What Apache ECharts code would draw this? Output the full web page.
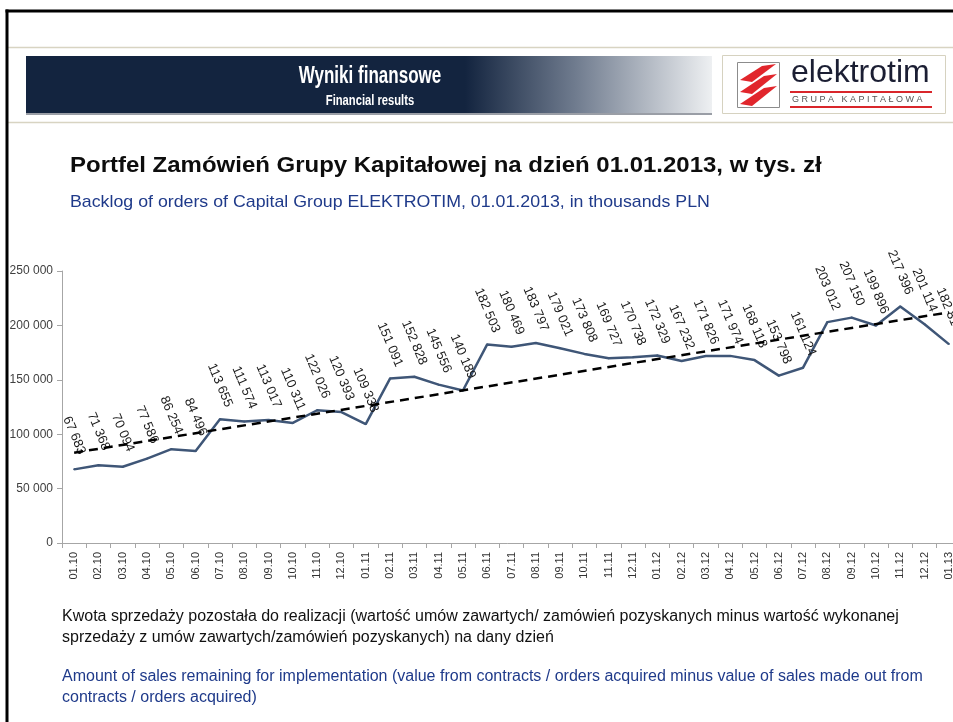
<!DOCTYPE html>
<html>
<head>
<meta charset="utf-8">
<script src="https://cdn.jsdelivr.net/npm/echarts@6/dist/echarts.min.js"></script>
<style>
html,body{margin:0;padding:0;background:#fff;}
#c{width:953px;height:722px;}
</style>
</head>
<body>
<div id="c"></div>
<script>
// ---- data ----
var categories = ['01.10','02.10','03.10','04.10','05.10','06.10','07.10','08.10','09.10','10.10','11.10','12.10',
  '01.11','02.11','03.11','04.11','05.11','06.11','07.11','08.11','09.11','10.11','11.11','12.11',
  '01.12','02.12','03.12','04.12','05.12','06.12','07.12','08.12','09.12','10.12','11.12','12.12','01.13'];
var backlog = [67683,71368,70094,77586,86254,84496,113655,111574,113017,110311,122026,120393,
  109338,151091,152828,145556,140189,182503,180469,183797,179021,173808,169727,170738,
  172329,167232,171826,171974,168118,153798,161124,203012,207150,199896,217396,201114,182817];
// linear trend line endpoints
var trendStart = 83000;
var trendEnd = 212000;
var yTicks = [0, 50000, 100000, 150000, 200000, 250000];

var trend = categories.map(function(c, i){
  if (i === 0) return trendStart;
  if (i === categories.length - 1) return trendEnd;
  return null;
});

function fmt(n){ return String(n).replace(/\B(?=(\d{3})+(?!\d))/g, ' '); }

var chart = echarts.init(document.getElementById('c'), null, {renderer:'canvas'});
var sans = "'Liberation Sans',Arial,sans-serif";

var option = {
  backgroundColor: '#ffffff',
  animation: false,
  grid: { left: 62, top: 271, right: -8, bottom: 179, outerBoundsMode: 'none', containLabel: false },
  xAxis: {
    type: 'category',
    data: categories,
    boundaryGap: true,
    axisLine: { lineStyle: { color: '#a6a6a6', width: 1 } },
    axisTick: { show: true, interval: 0, length: 5, lineStyle: { color: '#a6a6a6' } },
    axisLabel: { interval: 0, rotate: 90, fontSize: 11, fontFamily: sans, color: '#333333', margin: 9 },
    splitLine: { show: false }
  },
  yAxis: {
    type: 'value',
    min: yTicks[0], max: yTicks[yTicks.length-1], interval: 50000,
    axisLine: { show: true, lineStyle: { color: '#a6a6a6', width: 1 } },
    axisTick: { show: true, length: 5, lineStyle: { color: '#a6a6a6' } },
    axisLabel: { fontSize: 12, fontFamily: sans, color: '#404040', margin: 9, formatter: function(v){ return fmt(v); } },
    splitLine: { show: false }
  },
  series: [
    {
      type: 'line',
      data: backlog,
      z: 2,
      symbol: 'circle',
      symbolSize: 2,
      itemStyle: { color: '#3f5677' },
      lineStyle: { color: '#3f5677', width: 2.5 },
      label: {
        show: true,
        position: 'top',
        distance: 33,
        rotate: -67,
        align: 'center',
        verticalAlign: 'middle',
        fontSize: 13,
        fontFamily: sans,
        color: '#1a1a1a',
        formatter: function(p){ return fmt(p.value); }
      }
    },
    {
      type: 'line',
      data: trend,
      z: 5,
      connectNulls: true,
      symbol: 'none',
      lineStyle: { color: '#000000', width: 2.5, type: [9, 6] },
      silent: true
    }
  ],
  graphic: [
    // beige separator lines
    { type: 'line', shape: { x1: 8, y1: 47.5, x2: 953, y2: 47.5 }, style: { stroke: '#d8d4c2', lineWidth: 1.5 }, z: 100 },
    { type: 'line', shape: { x1: 8, y1: 122.5, x2: 953, y2: 122.5 }, style: { stroke: '#d8d4c2', lineWidth: 1.5 }, z: 100 },
    // header banner
    { type: 'rect', shape: { x: 26, y: 113, width: 686, height: 2 }, style: { fill: '#9a9ea6' }, z: 100 },
    { type: 'rect', shape: { x: 26, y: 56, width: 686, height: 57 },
      style: { fill: new echarts.graphic.LinearGradient(0, 0, 1, 0, [
        { offset: 0, color: '#13243f' }, { offset: 0.64, color: '#13243f' },
        { offset: 0.8, color: '#6f7b8e' }, { offset: 1, color: '#eef0f2' }]) }, z: 100 },
    { type: 'text', x: 370, y: 77, scaleX: 0.74, style: { text: 'Wyniki finansowe', fill: '#ffffff', font: "bold 23px " + sans, align: 'center', verticalAlign: 'middle' }, z: 101 },
    { type: 'text', x: 370, y: 101, scaleX: 0.8, style: { text: 'Financial results', fill: '#ffffff', font: "bold 14px " + sans, align: 'center', verticalAlign: 'middle' }, z: 101 },
    // logo
    { type: 'rect', shape: { x: 722.5, y: 55.5, width: 223, height: 58 }, style: { fill: '#ffffff', stroke: '#d6d2c0', lineWidth: 1 }, z: 100 },
    { type: 'rect', shape: { x: 737.5, y: 62.5, width: 42, height: 45 }, style: { fill: '#ffffff', stroke: '#8c8c8c', lineWidth: 1 }, z: 101 },
    { type: 'polygon', shape: { points: [[740,80],[762,66],[776,64],[752,82]] }, style: { fill: '#e1262c' }, z: 102 },
    { type: 'polygon', shape: { points: [[740,92],[764,76],[777,74],[752,94]] }, style: { fill: '#e1262c' }, z: 102 },
    { type: 'polygon', shape: { points: [[740,104],[764,88],[777,86],[752,106]] }, style: { fill: '#e1262c' }, z: 102 },
    { type: 'text', x: 791, y: 89, style: { text: 'elektrotim', fill: '#1b1e33', font: "32px " + sans, align: 'left', verticalAlign: 'bottom' }, z: 101 },
    { type: 'rect', shape: { x: 790, y: 91, width: 142, height: 2 }, style: { fill: '#d9262b' }, z: 101 },
    { type: 'text', x: 792, y: 100, style: { text: 'G R U P A   K A P I T A Ł O W A', fill: '#555555', font: "9px " + sans, align: 'left', verticalAlign: 'middle' }, z: 101 },
    { type: 'rect', shape: { x: 790, y: 106, width: 142, height: 2 }, style: { fill: '#d9262b' }, z: 101 },
    // titles
    { type: 'text', x: 70, y: 166, scaleX: 1.09, style: { text: 'Portfel Zamówień Grupy Kapitałowej na dzień 01.01.2013, w tys. zł', fill: '#0d0d0d', font: "bold 22px " + sans, align: 'left', verticalAlign: 'middle' }, z: 100 },
    { type: 'text', x: 70, y: 202, scaleX: 1.045, style: { text: 'Backlog of orders of Capital Group ELEKTROTIM, 01.01.2013, in thousands PLN', fill: '#1f3a8a', font: "17px " + sans, align: 'left', verticalAlign: 'middle' }, z: 100 },
    // footnotes
    { type: 'text', x: 62, y: 617, style: { text: 'Kwota sprzedaży pozostała do realizacji (wartość umów zawartych/ zamówień pozyskanych minus wartość wykonanej', fill: '#111111', font: "16px " + sans, align: 'left', verticalAlign: 'middle' }, z: 100 },
    { type: 'text', x: 62, y: 638, style: { text: 'sprzedaży z umów zawartych/zamówień pozyskanych) na dany dzień', fill: '#111111', font: "16px " + sans, align: 'left', verticalAlign: 'middle' }, z: 100 },
    { type: 'text', x: 62, y: 677, style: { text: 'Amount of sales remaining for implementation (value from contracts / orders acquired minus value of sales made out from', fill: '#1f3a8a', font: "16px " + sans, align: 'left', verticalAlign: 'middle' }, z: 100 },
    { type: 'text', x: 62, y: 698, style: { text: 'contracts / orders acquired)', fill: '#1f3a8a', font: "16px " + sans, align: 'left', verticalAlign: 'middle' }, z: 100 },
    // black frame
    { type: 'line', shape: { x1: 5.5, y1: 11, x2: 953, y2: 11 }, style: { stroke: '#000000', lineWidth: 3 }, z: 200 },
    { type: 'line', shape: { x1: 7, y1: 9.5, x2: 7, y2: 722 }, style: { stroke: '#000000', lineWidth: 3 }, z: 200 }
  ]
};
chart.setOption(option);
</script>
</body>
</html>
